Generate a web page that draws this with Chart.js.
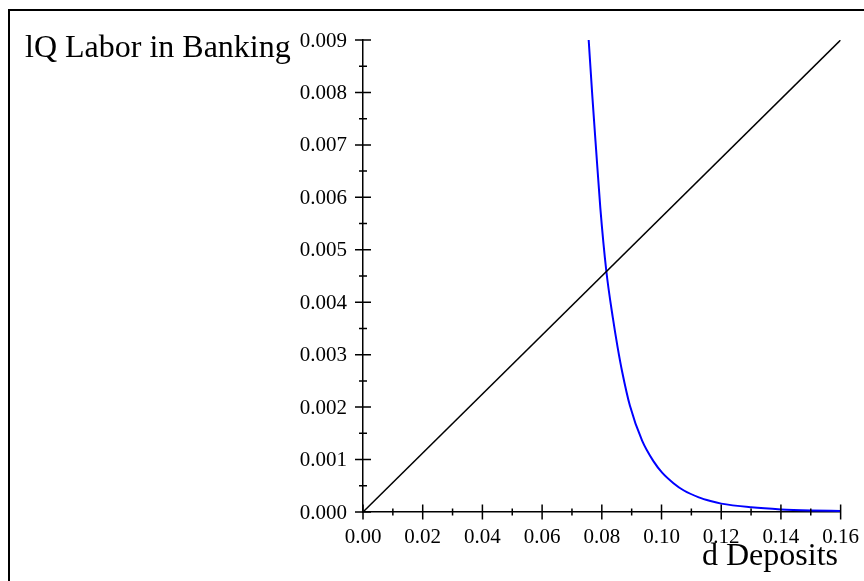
<!DOCTYPE html>
<html>
<head>
<meta charset="utf-8">
<script src="https://cdn.jsdelivr.net/npm/chart.js@4.4.1/dist/chart.umd.min.js"></script>
<style>
  body { margin: 0; background: #fff; }
</style>
</head>
<body>
<canvas id="chart" width="864" height="581"></canvas>
<script>
// values
var lineX = [0.00, 0.16];
var lineY = [0.000, 0.009];

var curveX = [0.0756, 0.0768, 0.0781, 0.0795, 0.0815, 0.0837, 0.0853, 0.0868, 0.0894, 0.0935,
              0.0974, 0.1002, 0.1040, 0.1075, 0.1125, 0.1164, 0.1200, 0.1300, 0.1400, 0.1500, 0.1600];
var curveY = [0.00900, 0.00795, 0.00690, 0.00580, 0.00460, 0.00370, 0.00314, 0.00268, 0.00203, 0.00136,
              0.00096, 0.00075, 0.00055, 0.00041, 0.00028, 0.00021, 0.00016, 0.00009, 0.00005, 0.00003, 0.00002];

var xMajor = [0, 0.02, 0.04, 0.06, 0.08, 0.10, 0.12, 0.14, 0.16];
var xMinor = [0.01, 0.03, 0.05, 0.07, 0.09, 0.11, 0.13, 0.15];
var yMajor = [0, 0.001, 0.002, 0.003, 0.004, 0.005, 0.006, 0.007, 0.008, 0.009];
var yMinor = [0.0005, 0.0015, 0.0025, 0.0035, 0.0045, 0.0055, 0.0065, 0.0075, 0.0085];

var yTitle = 'lQ Labor in Banking';
var xTitle = 'd Deposits';

function pts(xs, ys) {
    return xs.map(function(x, i) { return { x: x, y: ys[i] }; });
}

var serif = "'Liberation Serif', 'DejaVu Serif', serif";

// frame, crossing tick marks and the two titles
var decor = {
    id: 'decor',
    beforeDraw: function(chart) {
        var ctx = chart.ctx;
        ctx.save();
        ctx.fillStyle = '#000';
        ctx.fillRect(8, 9, chart.width, 2);
        ctx.fillRect(8, 9, 2, chart.height);
        ctx.restore();
    },
    afterDraw: function(chart) {
        var ctx = chart.ctx;
        var xs = chart.scales.x, ys = chart.scales.y;
        var x0 = xs.getPixelForValue(0), y0 = ys.getPixelForValue(0);
        ctx.save();
        ctx.strokeStyle = '#000';
        ctx.lineWidth = 1.5;
        ctx.beginPath();
        xMajor.forEach(function(v) {
            var p = xs.getPixelForValue(v);
            ctx.moveTo(p, y0 - 7.5); ctx.lineTo(p, y0 + 7.5);
        });
        xMinor.forEach(function(v) {
            var p = xs.getPixelForValue(v);
            ctx.moveTo(p, y0 - 3.5); ctx.lineTo(p, y0 + 3.5);
        });
        yMajor.forEach(function(v) {
            var p = ys.getPixelForValue(v);
            ctx.moveTo(x0 - 8, p); ctx.lineTo(x0 + 8, p);
        });
        yMinor.forEach(function(v) {
            var p = ys.getPixelForValue(v);
            ctx.moveTo(x0 - 4, p); ctx.lineTo(x0 + 4, p);
        });
        ctx.stroke();

        ctx.fillStyle = '#000';
        ctx.font = '32px ' + serif;
        ctx.textBaseline = 'alphabetic';
        ctx.textAlign = 'left';
        ctx.fillText(yTitle, 25, 57);
        ctx.textAlign = 'right';
        ctx.fillText(xTitle, 838, 565);
        ctx.restore();
    }
};

var ctx = document.getElementById('chart').getContext('2d');
var chart = new Chart(ctx, {
    type: 'scatter',
    data: {
        datasets: [{
            data: pts(lineX, lineY),
            showLine: true,
            borderColor: '#000',
            borderWidth: 1.5,
            pointRadius: 0
        }, {
            data: pts(curveX, curveY),
            showLine: true,
            cubicInterpolationMode: 'monotone',
            borderColor: '#0000ff',
            borderWidth: 2,
            pointRadius: 0
        }]
    },
    options: {
        responsive: false,
        animation: false,
        layout: { padding: { left: 0, right: 16, top: 40, bottom: 0 } },
        plugins: {
            legend: { display: false },
            tooltip: { enabled: false }
        },
        scales: {
            x: {
                type: 'linear',
                min: 0,
                max: 0.16,
                afterFit: function(s) { s.height = 69; },
                grid: { display: false },
                border: { display: true, color: '#000', width: 1.5 },
                ticks: {
                    stepSize: 0.02,
                    padding: 5,
                    color: '#000',
                    font: { family: serif, size: 21 },
                    maxRotation: 0,
                    autoSkip: false,
                    callback: function(v) { return v.toFixed(2); }
                }
            },
            y: {
                type: 'linear',
                min: 0,
                max: 0.009,
                afterFit: function(s) { s.width = 363; },
                grid: { display: false },
                border: { display: true, color: '#000', width: 1.5 },
                ticks: {
                    stepSize: 0.001,
                    padding: 8,
                    labelOffset: 1,
                    color: '#000',
                    font: { family: serif, size: 21 },
                    autoSkip: false,
                    callback: function(v) { return v.toFixed(3); }
                }
            }
        }
    },
    plugins: [decor]
});
</script>
</body>
</html>
